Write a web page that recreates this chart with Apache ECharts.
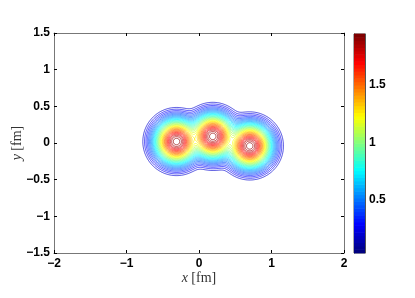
<!DOCTYPE html>
<html><head><meta charset="utf-8">
<script src="https://cdn.jsdelivr.net/npm/echarts@6/dist/echarts.min.js"></script>
<style>html,body{margin:0;padding:0;background:#fff}#c{width:415px;height:298px}</style>
</head><body><div id="c"></div>
<script>
// ---- values ----
const peakX = [-0.31, 0.19, 0.70];
const peakY = [0.02, 0.09, -0.04];
const peakHeight = [1.94, 1.94, 1.94];
const peakWidth = [0.218, 0.218, 0.218];
const contourLevels = [0.20, 0.25, 0.30, 0.35, 0.40, 0.45, 0.50, 0.55, 0.60, 0.65, 0.70,
  0.75, 0.80, 0.85, 0.90, 0.95, 1.00, 1.05, 1.10, 1.15, 1.20, 1.25, 1.30, 1.35, 1.40,
  1.45, 1.50, 1.55, 1.60, 1.65, 1.70, 1.75, 1.80, 1.85, 1.90];
const xTicks = [-2, -1, 0, 1, 2];
const yTicks = [-1.5, -1, -0.5, 0, 0.5, 1, 1.5];
const colorbarTicks = [0.5, 1, 1.5];
const colorRange = [0.04, 1.94];

// ---- field on a grid (the three peaks combined by a soft maximum) ----
const gx0 = -1.2, gx1 = 1.6, gy0 = -0.9, gy1 = 1.0, gh = 0.01, pw = 3;
const nx = Math.round((gx1 - gx0) / gh) + 1, ny = Math.round((gy1 - gy0) / gh) + 1;
const F = new Float64Array(nx * ny);
for (let j = 0; j < ny; j++) for (let i = 0; i < nx; i++) {
  const x = gx0 + i * gh, y = gy0 + j * gh;
  let s = 0;
  for (let k = 0; k < peakX.length; k++) {
    const r2 = (x - peakX[k]) ** 2 + (y - peakY[k]) ** 2;
    s += Math.pow(peakHeight[k] * Math.exp(-r2 / (2 * peakWidth[k] ** 2)), pw);
  }
  F[j * nx + i] = Math.pow(s, 1 / pw);
}

function contourChains(L) {
  const pos = new Map(), adj = new Map();
  const v = (i, j) => F[j * nx + i];
  function hEdge(i, j) {
    const id = (j * nx + i) * 2;
    if (!pos.has(id)) { const a = v(i, j), b = v(i + 1, j), t = (L - a) / (b - a); pos.set(id, [gx0 + (i + t) * gh, gy0 + j * gh]); }
    return id;
  }
  function vEdge(i, j) {
    const id = (j * nx + i) * 2 + 1;
    if (!pos.has(id)) { const a = v(i, j), b = v(i, j + 1), t = (L - a) / (b - a); pos.set(id, [gx0 + i * gh, gy0 + (j + t) * gh]); }
    return id;
  }
  function seg(a, b) {
    if (!adj.has(a)) adj.set(a, []); if (!adj.has(b)) adj.set(b, []);
    adj.get(a).push(b); adj.get(b).push(a);
  }
  for (let j = 0; j < ny - 1; j++) for (let i = 0; i < nx - 1; i++) {
    const a00 = v(i, j) > L, a10 = v(i + 1, j) > L, a11 = v(i + 1, j + 1) > L, a01 = v(i, j + 1) > L;
    const e = [];
    const B = a00 !== a10, R = a10 !== a11, T = a01 !== a11, Lf = a00 !== a01;
    if (!(B || R || T || Lf)) continue;
    if (B) e.push(hEdge(i, j));
    if (R) e.push(vEdge(i + 1, j));
    if (T) e.push(hEdge(i, j + 1));
    if (Lf) e.push(vEdge(i, j));
    if (e.length === 2) seg(e[0], e[1]);
    else if (e.length === 4) {
      const c = (v(i, j) + v(i + 1, j) + v(i + 1, j + 1) + v(i, j + 1)) / 4 > L;
      const [eb, er, et, el] = e;
      if (a00) { if (c) { seg(eb, er); seg(et, el); } else { seg(eb, el); seg(er, et); } }
      else { if (c) { seg(eb, el); seg(er, et); } else { seg(eb, er); seg(et, el); } }
    }
  }
  const seen = new Set(), chains = [];
  function walk(start) {
    const out = [pos.get(start)]; seen.add(start);
    let cur = start;
    while (true) {
      const nb = adj.get(cur).find(n => !seen.has(n));
      if (nb === undefined) break;
      seen.add(nb); out.push(pos.get(nb)); cur = nb;
    }
    return out;
  }
  for (const [k, n] of adj) if (n.length === 1 && !seen.has(k)) chains.push(walk(k));
  for (const [k] of adj) if (!seen.has(k)) { const c = walk(k); c.push(c[0]); chains.push(c); }
  return chains;
}

const chains = [];
contourLevels.forEach(L => contourChains(L).forEach(p => chains.push({ level: L, pts: p })));

function jet(val) {
  let t = (val - colorRange[0]) / (colorRange[1] - colorRange[0]);
  t = Math.max(0, Math.min(1, t));
  const idx = Math.min(63, Math.floor(t * 64)), q = idx / 63;
  const cl = x => Math.max(0, Math.min(1, x));
  const r = cl(1.5 - Math.abs(4 * q - 3)), g = cl(1.5 - Math.abs(4 * q - 2)), b = cl(1.5 - Math.abs(4 * q - 1));
  return 'rgb(' + Math.round(r * 255) + ',' + Math.round(g * 255) + ',' + Math.round(b * 255) + ')';
}

const nBins = 64, bins = [];
for (let k = 0; k < nBins; k++) {
  const lo = colorRange[0] + (colorRange[1] - colorRange[0]) * k / nBins;
  const hi = colorRange[0] + (colorRange[1] - colorRange[0]) * (k + 1) / nBins;
  bins.push([lo, hi]);
}

const fmt = v => (v < 0 ? '\u2212' : '') + Math.abs(v);
const frame = '#777';
const lab = { color: '#000', fontFamily: 'Liberation Sans, Arial, sans-serif', fontWeight: 'bold', fontSize: 12 };
const serifRich = {
  i: { fontFamily: 'Liberation Serif, serif', fontStyle: 'italic', fontSize: 14, color: '#333' },
  r: { fontFamily: 'Liberation Serif, serif', fontSize: 14, color: '#333' }
};
function axisBase(extra) {
  return Object.assign({
    type: 'value', splitLine: { show: false },
    axisLine: { show: true, onZero: false, lineStyle: { color: frame, width: 1 } },
    axisTick: { show: true, inside: true, length: 3, lineStyle: { color: '#000', width: 1 } }
  }, extra);
}

const chart = echarts.init(document.getElementById('c'), null, { renderer: 'canvas' });
chart.setOption({
  animation: false,
  backgroundColor: '#fff',
  grid: [
    { left: 54, right: 71, top: 33, bottom: 45, outerBoundsMode: 'none' },
    { left: 354, top: 34, width: 11, height: 219, outerBoundsMode: 'none', show: true, borderColor: '#555', borderWidth: 1, backgroundColor: 'transparent' }
  ],
  xAxis: [
    axisBase({ gridIndex: 0, min: xTicks[0], max: xTicks[xTicks.length - 1], interval: 1, position: 'bottom',
      axisLabel: Object.assign({ margin: 5, formatter: fmt }, lab),
      name: '{i|x} {r|[fm]}', nameLocation: 'middle', nameGap: 18, nameMoveOverlap: false, nameTextStyle: { rich: serifRich } }),
    axisBase({ gridIndex: 0, min: xTicks[0], max: xTicks[xTicks.length - 1], interval: 1, position: 'top', axisLabel: { show: false } }),
    { gridIndex: 1, type: 'value', min: 0, max: 1, show: false }
  ],
  yAxis: [
    axisBase({ gridIndex: 0, min: yTicks[0], max: yTicks[yTicks.length - 1], interval: 0.5, position: 'left',
      axisLabel: Object.assign({ margin: 4, formatter: fmt }, lab),
      name: '{i|y} {r|[fm]}', nameLocation: 'middle', nameGap: 30, nameRotate: 90, nameMoveOverlap: false, nameTextStyle: { rich: serifRich } }),
    axisBase({ gridIndex: 0, min: yTicks[0], max: yTicks[yTicks.length - 1], interval: 0.5, position: 'right', axisLabel: { show: false } }),
    axisBase({ gridIndex: 1, min: colorRange[0], max: colorRange[1], position: 'right',
      axisLine: { show: true, onZero: false, lineStyle: { color: '#555', width: 1 } },
      axisTick: { show: true, inside: true, length: 2, customValues: colorbarTicks, lineStyle: { color: '#000' } },
      axisLabel: Object.assign({ margin: 4, customValues: colorbarTicks, formatter: v => String(v) }, lab) }),
    axisBase({ gridIndex: 1, min: colorRange[0], max: colorRange[1], position: 'left',
      axisLine: { show: true, onZero: false, lineStyle: { color: '#555', width: 1 } },
      axisTick: { show: true, inside: true, length: 2, customValues: colorbarTicks, lineStyle: { color: '#000' } },
      axisLabel: { show: false } })
  ],
  series: [
    {
      type: 'custom', xAxisIndex: 0, yAxisIndex: 0, clip: true, silent: true,
      data: chains.map((c, k) => [c.level, k]),
      encode: { x: -1, y: -1 },
      renderItem: function (params, api) {
        const c = chains[api.value(1)];
        return { type: 'polyline', shape: { points: c.pts.map(p => api.coord(p)) },
          style: { stroke: jet(api.value(0)), fill: null, lineWidth: 0.7 } };
      }
    },
    {
      type: 'custom', xAxisIndex: 2, yAxisIndex: 2, silent: true, z: 1,
      data: bins,
      encode: { x: -1, y: -1 },
      renderItem: function (params, api) {
        const p1 = api.coord([0, api.value(1)]), p2 = api.coord([1, api.value(0)]);
        return { type: 'rect', shape: { x: p1[0], y: p1[1] - 0.3, width: p2[0] - p1[0], height: p2[1] - p1[1] + 0.6 },
          style: { fill: jet((api.value(0) + api.value(1)) / 2) } };
      }
    }
  ]
});
</script></body></html>
